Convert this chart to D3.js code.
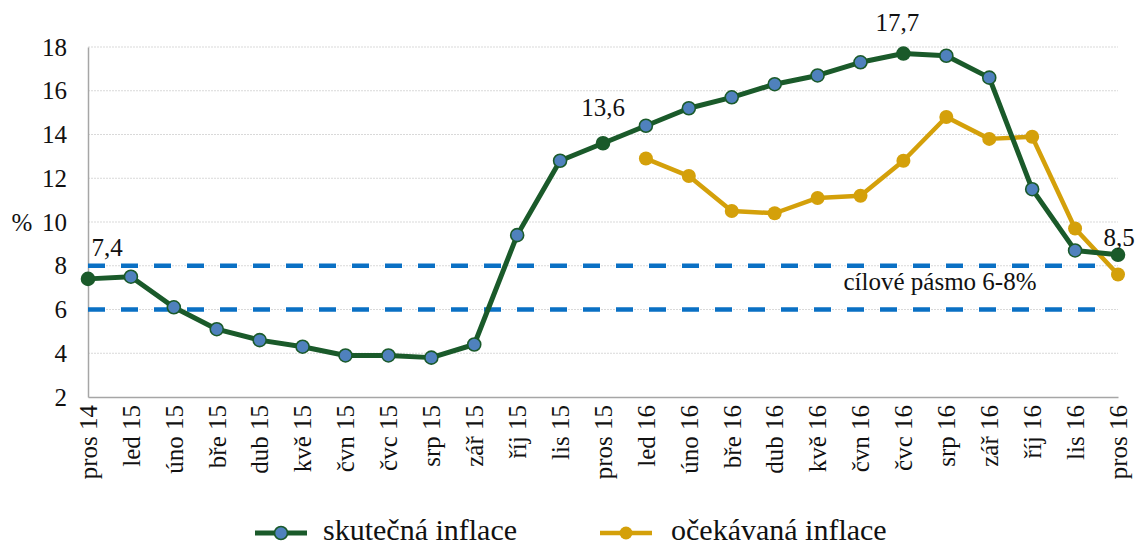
<!DOCTYPE html>
<html><head><meta charset="utf-8">
<script src="https://cdn.jsdelivr.net/npm/d3@7"></script>
<style>
html,body{margin:0;padding:0;background:#fff;}
svg text{font-family:"Liberation Serif","DejaVu Serif","Times New Roman",Times,serif !important;}
</style></head>
<body>
<svg id="c" width="1138" height="545"></svg>
<script>
const months = ["pros 14","led 15","úno 15","bře 15","dub 15","kvě 15","čvn 15","čvc 15","srp 15","zář 15","říj 15","lis 15","pros 15","led 16","úno 16","bře 16","dub 16","kvě 16","čvn 16","čvc 16","srp 16","zář 16","říj 16","lis 16","pros 16"];
const actual = [7.4,7.5,6.1,5.1,4.6,4.3,3.9,3.9,3.8,4.4,9.4,12.8,13.6,14.4,15.2,15.7,16.3,16.7,17.3,17.7,17.6,16.6,11.5,8.7,8.5];
const expected = [null,null,null,null,null,null,null,null,null,null,null,null,null,12.9,12.1,10.5,10.4,11.1,11.2,12.8,14.8,13.8,13.9,9.7,7.6];
const yTicks = [2,4,6,8,10,12,14,16,18];
const targetBand = [6,8];
const labelledIdx = [0,12,19,24];
const seriesNames = ["skutečná inflace","očekávaná inflace"];
const bandText = "cílové pásmo 6-8%";

const GREEN = "#1a5a2a", BLUE = "#4f81bd", GOLD = "#d4a00a", DASH = "#0a70c4";
const svg = d3.select("#c");
const x = d3.scalePoint().domain(months).range([88,1118]);
const y = d3.scaleLinear().domain([2,18]).range([397,47]);

// gridlines
svg.append("g").selectAll("line").data(yTicks.filter(d=>d>2)).join("line")
  .attr("x1",88).attr("x2",1118).attr("y1",d=>y(d)).attr("y2",d=>y(d))
  .attr("stroke","#d9d9d9").attr("stroke-width",1.2).attr("stroke-dasharray","2,1");

// y axis
const ya = svg.append("g").attr("transform","translate(88,0)")
  .call(d3.axisLeft(y).tickValues(yTicks).tickSize(0).tickPadding(21).tickFormat(d3.format("d")));
ya.attr("font-family",null);
ya.select(".domain").attr("stroke","#a6a6a6").attr("stroke-width",1.5);
ya.selectAll("text").attr("font-size",25).attr("fill","#111");

// x axis
const xa = svg.append("g").attr("transform","translate(0,397)")
  .call(d3.axisBottom(x).tickSize(0).tickPadding(0));
xa.attr("font-family",null);
xa.select(".domain").attr("stroke","#a6a6a6").attr("stroke-width",1.5);
xa.selectAll("text").attr("font-size",25).attr("fill","#111")
  .attr("text-anchor","end").attr("dy","0.33em")
  .attr("transform","translate(0,8) rotate(-90)").attr("x",0).attr("y",0);

// % label
svg.append("text").attr("x",22).attr("y",y(10)).attr("dy","0.35em").attr("text-anchor","middle")
  .attr("font-size",25).attr("fill","#111").text("%");

// target band dashed lines
svg.append("g").selectAll("line").data(targetBand).join("line")
  .attr("x1",88).attr("x2",1102).attr("y1",d=>y(d)).attr("y2",d=>y(d))
  .attr("stroke",DASH).attr("stroke-width",4.5).attr("stroke-dasharray","17,16");
svg.append("text").attr("x",940).attr("y",290).attr("text-anchor","middle")
  .attr("font-size",25).attr("fill","#111").text(bandText);

// expected line
const ex = expected.map((v,i)=>({i,v})).filter(d=>d.v!=null);
svg.append("path").datum(ex)
  .attr("d",d3.line().x(d=>x(months[d.i])).y(d=>y(d.v)))
  .attr("fill","none").attr("stroke",GOLD).attr("stroke-width",4.5).attr("stroke-linejoin","round");
svg.append("g").selectAll("circle").data(ex).join("circle")
  .attr("cx",d=>x(months[d.i])).attr("cy",d=>y(d.v)).attr("r",7).attr("fill",GOLD);

// actual line
const ac = actual.map((v,i)=>({i,v}));
svg.append("path").datum(ac)
  .attr("d",d3.line().x(d=>x(months[d.i])).y(d=>y(d.v)))
  .attr("fill","none").attr("stroke",GREEN).attr("stroke-width",5).attr("stroke-linejoin","round");
svg.append("g").selectAll("circle").data(ac).join("circle")
  .attr("cx",d=>x(months[d.i])).attr("cy",d=>y(d.v)).attr("r",6.5)
  .attr("fill",d=>labelledIdx.includes(d.i)?GREEN:BLUE)
  .attr("stroke",GREEN).attr("stroke-width",1.6);

// data labels
const fmt = v => String(v).replace(".",",");
const offs = {0:[19,-23],12:[0,-27],19:[-6,-23],24:[1,-9]};
svg.append("g").selectAll("text").data(labelledIdx).join("text")
  .attr("x",i=>x(months[i])+offs[i][0]).attr("y",i=>y(actual[i])+offs[i][1])
  .attr("text-anchor","middle").attr("font-size",25).attr("fill","#111")
  .text(i=>fmt(actual[i]));

// legend
const leg = [{n:seriesNames[0],c:GREEN,f:BLUE,x0:255,tx:323},{n:seriesNames[1],c:GOLD,f:GOLD,x0:600,tx:671}];
const lg = svg.append("g");
leg.forEach(L=>{
  lg.append("line").attr("x1",L.x0).attr("x2",L.x0+52).attr("y1",533).attr("y2",533)
    .attr("stroke",L.c).attr("stroke-width",L.c===GREEN?5:4.5);
  lg.append("circle").attr("cx",L.x0+26).attr("cy",533).attr("r",6.5).attr("fill",L.f)
    .attr("stroke",L.c===GREEN?GREEN:"none").attr("stroke-width",1.6);
  lg.append("text").attr("x",L.tx).attr("y",540).attr("font-size",30).attr("fill","#111").text(L.n);
});
</script>
</body></html>
